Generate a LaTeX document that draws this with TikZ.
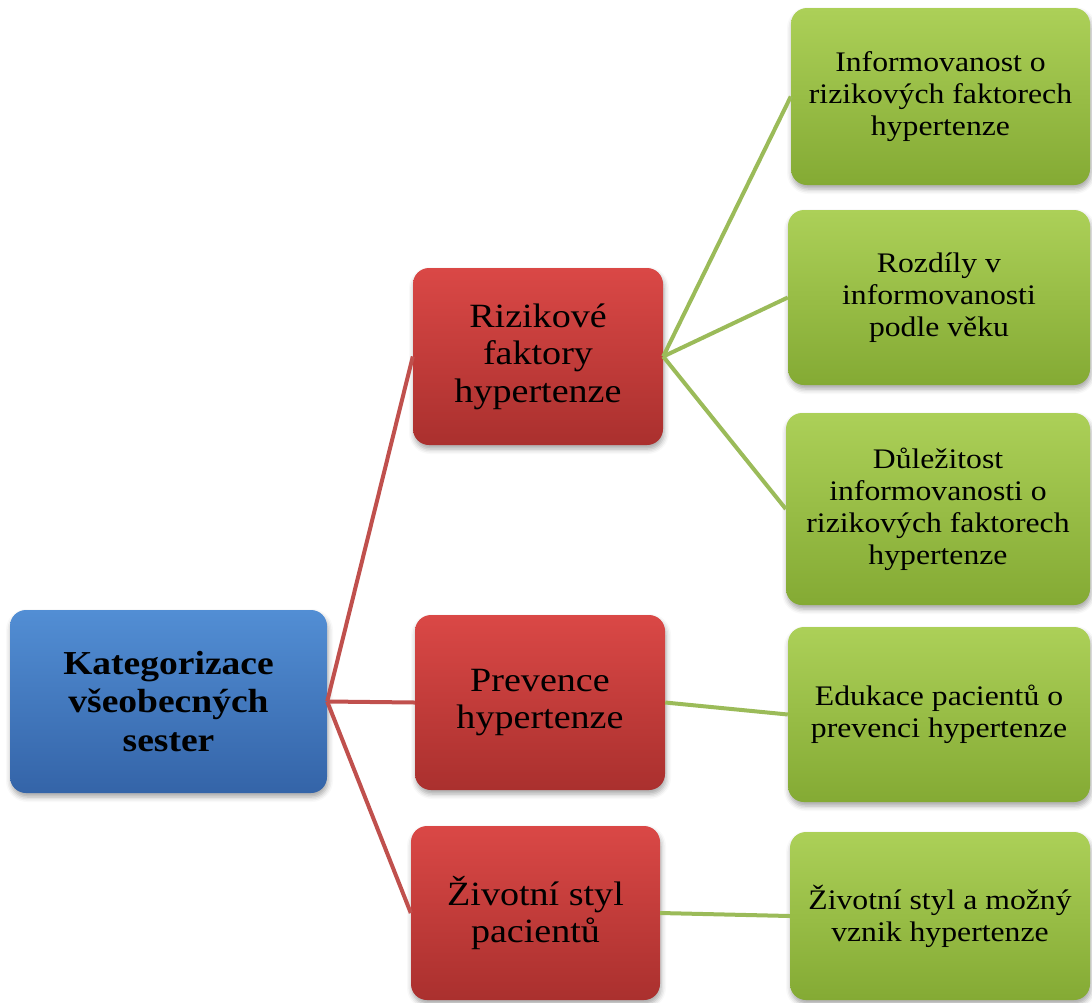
\documentclass[tikz,border=0pt]{standalone}
\usepackage{fontspec}
\setmainfont[FakeStretch=1.12]{Liberation Serif}
\usetikzlibrary{shadows.blur}
\definecolor{bluetop}{RGB}{82,142,212}
\definecolor{bluebot}{RGB}{52,100,168}
\definecolor{redtop}{RGB}{218,72,70}
\definecolor{redbot}{RGB}{170,48,46}
\definecolor{greentop}{RGB}{172,208,88}
\definecolor{greenbot}{RGB}{132,170,52}
\definecolor{redline}{RGB}{192,80,77}
\definecolor{greenline}{RGB}{155,187,89}
\begin{document}
\begin{tikzpicture}[x=1pt,y=-1pt,
  box/.style={rounded corners=16pt, draw=none, align=center, inner sep=0pt,
    blur shadow={shadow xshift=1pt, shadow yshift=-4pt, shadow blur radius=5pt, shadow opacity=35}},
  rootbox/.style={box, top color=bluetop, bottom color=bluebot,
    font=\fontsize{33.5}{38.5}\selectfont\bfseries},
  midbox/.style={box, top color=redtop, bottom color=redbot,
    font=\fontsize{34}{37.5}\selectfont},
  leafbox/.style={box, top color=greentop, bottom color=greenbot,
    font=\fontsize{28.3}{32}\selectfont},
  redlink/.style={draw=redline, line width=4pt},
  greenlink/.style={draw=greenline, line width=4pt}
]
\useasboundingbox (0,0) rectangle (1092,1002);

% root
\node[rootbox, minimum width=317pt, minimum height=183pt] (root) at (168.5,701.5)
  {Kategorizace\\všeobecných\\sester};

% second level
\node[midbox, minimum width=250pt, minimum height=177pt] (r1) at (538,356.5)
  {Rizikové\\faktory\\hypertenze};
\node[midbox, minimum width=250pt, minimum height=175pt] (r2) at (540,702.5)
  {Prevence\\hypertenze};
\node[midbox, minimum width=249pt, minimum height=174pt] (r3) at (535.5,913)
  {Životní styl\\pacientů};

% leaves
\node[leafbox, minimum width=299pt, minimum height=177pt] (g1) at (940.5,96.5)
  {Informovanost o\\rizikových faktorech\\hypertenze};
\node[leafbox, minimum width=302pt, minimum height=175pt] (g2) at (939,297.5)
  {Rozdíly v\\informovanosti\\podle věku};
\node[leafbox, minimum width=304pt, minimum height=192pt] (g3) at (938,509)
  {Důležitost\\informovanosti o\\rizikových faktorech\\hypertenze};
\node[leafbox, minimum width=302pt, minimum height=175pt] (g4) at (939,714.5)
  {Edukace pacientů o\\prevenci hypertenze};
\node[leafbox, minimum width=300pt, minimum height=168pt] (g5) at (940,916)
  {Životní styl a možný\\vznik hypertenze};

% connectors
\draw[redlink] (root.east) -- (r1.west);
\draw[redlink] (root.east) -- (r2.west);
\draw[redlink] (root.east) -- (r3.west);
\draw[greenlink] (r1.east) -- (g1.west);
\draw[greenlink] (r1.east) -- (g2.west);
\draw[greenlink] (r1.east) -- (g3.west);
\draw[greenlink] (r2.east) -- (g4.west);
\draw[greenlink] (r3.east) -- (g5.west);
\end{tikzpicture}
\end{document}
